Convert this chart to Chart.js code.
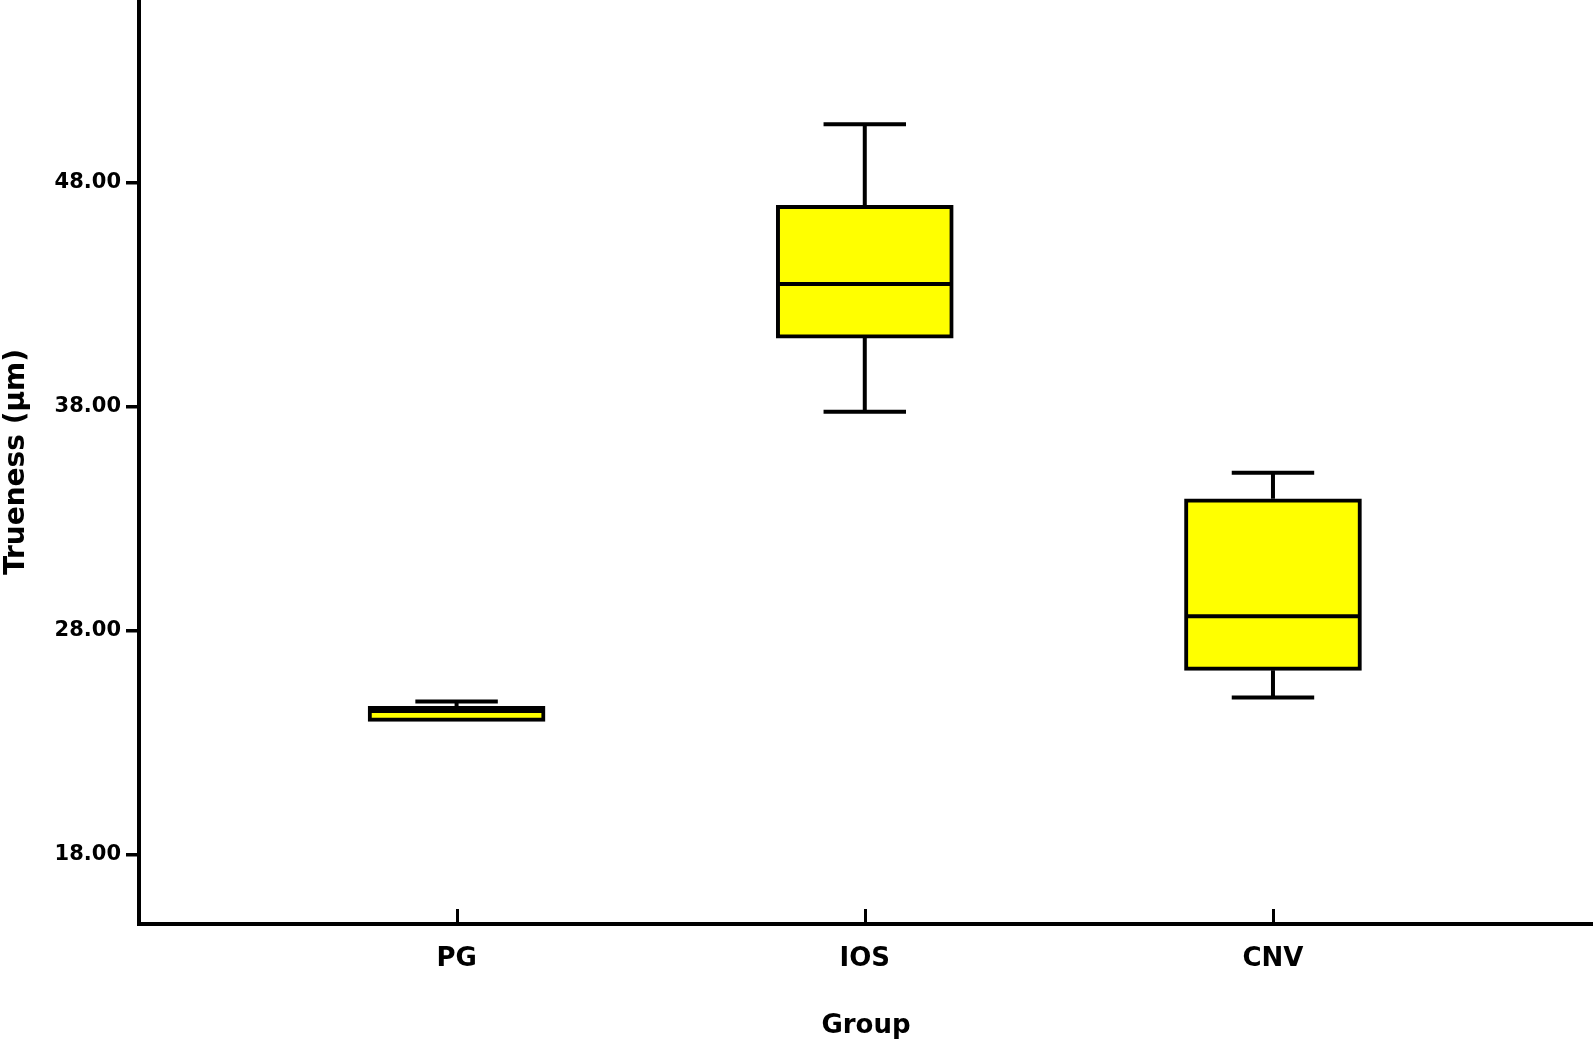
<!DOCTYPE html>
<html><head><meta charset="utf-8">
<script src="https://cdn.jsdelivr.net/npm/chart.js@4.4.0/dist/chart.umd.min.js"></script>
<style>html,body{margin:0;padding:0;background:#fff;} #wrap{width:1593px;height:1042px;position:relative;}</style>
</head><body><div id="wrap"><canvas id="c"></canvas></div>
<script>
// ---- data ----
const categories = ['PG', 'IOS', 'CNV'];
const whiskerLow  = [24.00, 37.78, 25.03];
const q1          = [23.96, 41.07, 26.24];
const median      = [24.43, 43.48, 28.65];
const q3          = [24.63, 47.00, 33.90];
const whiskerHigh = [24.85, 50.62, 35.06];
const yTickValues = [18, 28, 38, 48];

const FONT = "'DejaVu Sans', 'Liberation Sans', Arial, sans-serif";
const LINE = 4;

const boxPlugin = {
  id: 'boxWhiskers',
  beforeDatasetsDraw(chart) {
    const ctx = chart.ctx, xs = chart.scales.x, ys = chart.scales.y;
    ctx.save();
    ctx.strokeStyle = '#000';
    ctx.lineWidth = LINE;
    ctx.lineCap = 'butt';
    categories.forEach((c, i) => {
      const x = xs.getPixelForValue(i);
      const capL = xs.getPixelForValue(i - 0.101), capR = xs.getPixelForValue(i + 0.101);
      ctx.beginPath();
      ctx.moveTo(x, ys.getPixelForValue(whiskerHigh[i]));
      ctx.lineTo(x, ys.getPixelForValue(q3[i]));
      ctx.moveTo(capL, ys.getPixelForValue(whiskerHigh[i]));
      ctx.lineTo(capR, ys.getPixelForValue(whiskerHigh[i]));
      ctx.stroke();
      if (whiskerLow[i] < q1[i]) {
        ctx.beginPath();
        ctx.moveTo(x, ys.getPixelForValue(q1[i]));
        ctx.lineTo(x, ys.getPixelForValue(whiskerLow[i]));
        ctx.moveTo(capL, ys.getPixelForValue(whiskerLow[i]));
        ctx.lineTo(capR, ys.getPixelForValue(whiskerLow[i]));
        ctx.stroke();
      }
    });
    ctx.restore();
  },
  afterDatasetsDraw(chart) {
    const ctx = chart.ctx, ys = chart.scales.y;
    const meta = chart.getDatasetMeta(0);
    ctx.save();
    ctx.strokeStyle = '#000';
    ctx.lineWidth = LINE;
    categories.forEach((c, i) => {
      const el = meta.data[i];
      const {x, width} = el.getProps(['x', 'width'], true);
      const y = ys.getPixelForValue(median[i]);
      ctx.beginPath();
      ctx.moveTo(x - width / 2 + 2, y);
      ctx.lineTo(x + width / 2 - 2, y);
      ctx.stroke();
    });
    ctx.restore();
  },
  afterDraw(chart) {
    const ctx = chart.ctx, xs = chart.scales.x, area = chart.chartArea;
    ctx.save();
    ctx.strokeStyle = '#000';
    ctx.lineWidth = 3;
    categories.forEach((c, i) => {
      const x = Math.round(xs.getPixelForValue(i)) + 0.5;
      ctx.beginPath();
      ctx.moveTo(x, area.bottom);
      ctx.lineTo(x, area.bottom - 15);
      ctx.stroke();
    });
    ctx.restore();
  }
};

new Chart(document.getElementById('c'), {
  type: 'bar',
  data: {
    datasets: [{
      data: categories.map((c, i) => ({x: i, y: [q1[i], q3[i]]})),
      backgroundColor: '#FFFF00',
      borderColor: '#000',
      borderWidth: LINE,
      borderSkipped: false,
      barThickness: 177
    }]
  },
  options: {
    responsive: true,
    maintainAspectRatio: false,
    devicePixelRatio: 1,
    animation: false,
    layout: {padding: 0},
    plugins: {legend: {display: false}, tooltip: {enabled: false}},
    scales: {
      x: {
        type: 'linear',
        offset: false,
        min: -0.778,
        max: 2.784,
        afterBuildTicks: s => { s.ticks = categories.map((c, i) => ({value: i})); },
        afterFit: s => { s.height = 118; s.paddingLeft = 0; s.paddingRight = 0; },
        grid: {display: false, offset: false},
        border: {display: true, color: '#000', width: LINE},
        ticks: {
          autoSkip: false,
          maxRotation: 0,
          padding: 12,
          color: '#000',
          font: {family: FONT, size: 26, weight: 'bold'},
          callback: v => categories[v] ?? ''
        },
        title: {
          display: true,
          text: 'Group',
          color: '#000',
          padding: {top: 0, bottom: 0},
          font: {family: FONT, size: 26, weight: 'bold'}
        }
      },
      y: {
        min: 14.92,
        max: 56.16,
        afterBuildTicks: s => { s.ticks = yTickValues.map(v => ({value: v})); },
        afterFit: s => { s.width = 139; s.paddingTop = 0; s.paddingBottom = 0; },
        grid: {display: true, drawOnChartArea: false, drawTicks: true, tickLength: 13, lineWidth: 3.5, color: '#000'},
        border: {display: true, color: '#000', width: LINE},
        ticks: {
          autoSkip: false,
          padding: 5,
          color: '#000',
          font: {family: FONT, size: 21, weight: 'bold'},
          callback: v => Number(v).toFixed(2)
        },
        title: {
          display: true,
          text: 'Trueness (µm)',
          color: '#000',
          padding: {top: 0, bottom: 0},
          font: {family: FONT, size: 28, weight: 'bold'}
        }
      }
    }
  },
  plugins: [boxPlugin]
});
</script>
</body></html>
